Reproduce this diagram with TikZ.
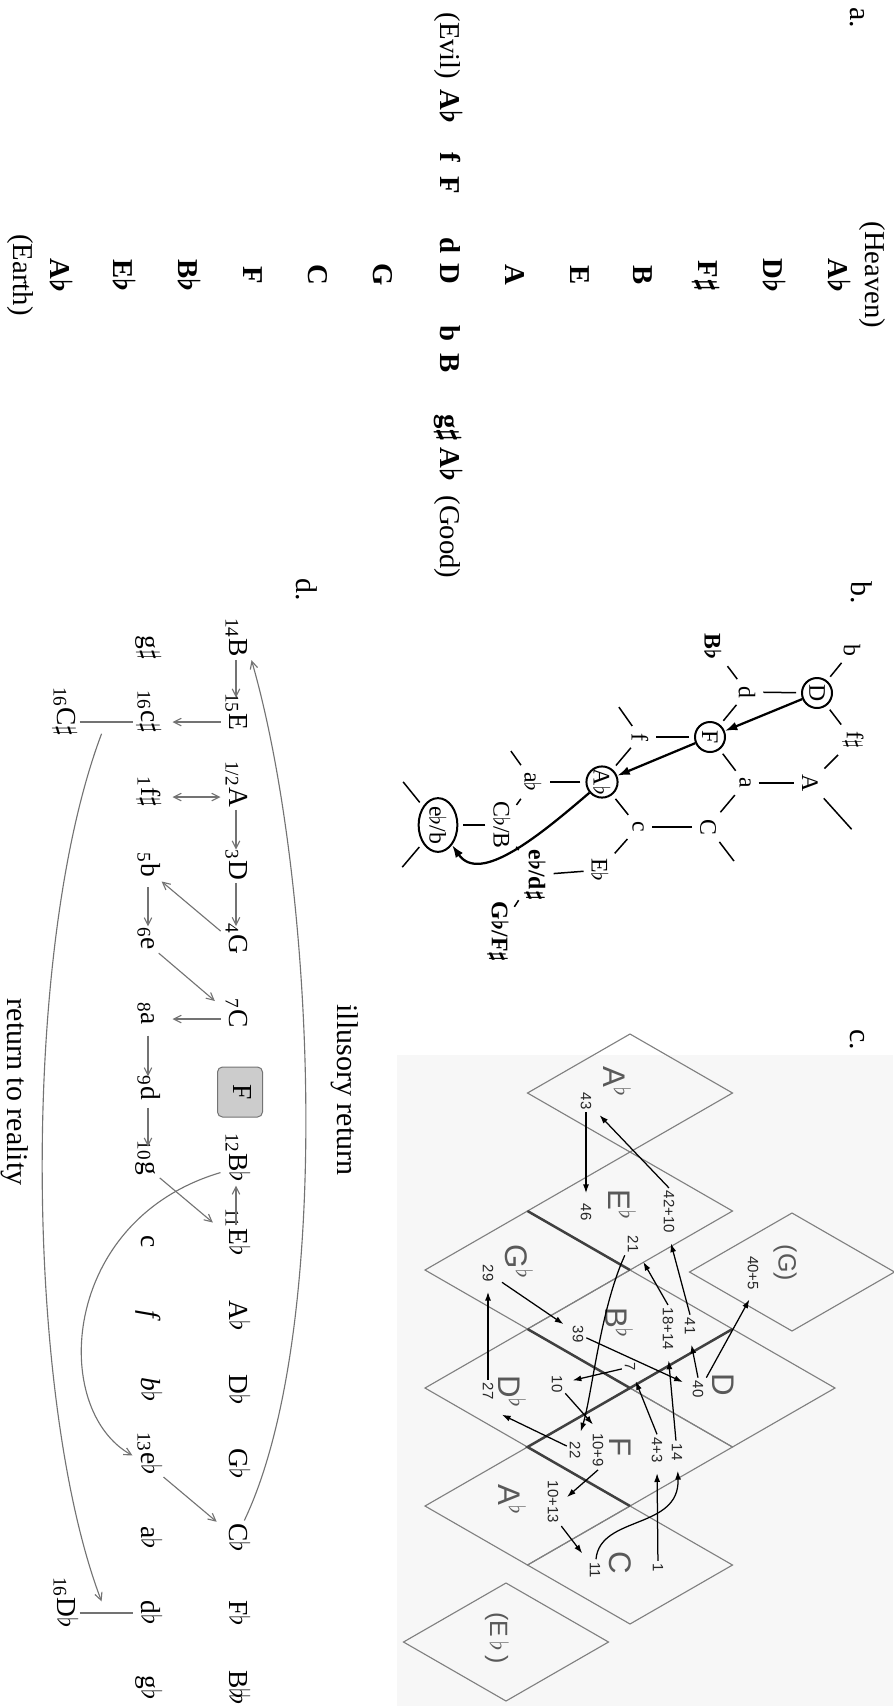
\documentclass[tikz,border=0pt]{standalone}
\usepackage{fontspec}
\setmainfont{Liberation Serif}
\setsansfont{Liberation Sans}
\usetikzlibrary{arrows.meta,shapes.geometric}

\begin{document}
\begin{tikzpicture}[
    x=0.4pt, y=-0.4pt,
    every node/.style={rotate=-90},
    tag/.style={font=\fontsize{12}{14}\selectfont, inner sep=1pt},
    pole/.style={font=\fontsize{11.5}{13}\selectfont, text height=8pt, text depth=2.5pt, inner sep=0pt},
    key/.style={pole, font=\fontsize{11.5}{13}\selectfont\bfseries\boldmath},
    tri/.style={font=\fontsize{9.5}{11}\selectfont, inner sep=1pt},
    trib/.style={tri, font=\fontsize{9.5}{11}\selectfont\bfseries\boldmath},
    ring/.style={tri, circle, draw, line width=0.8pt, inner sep=0pt, minimum size=12pt},
    oval/.style={tri, ellipse, draw, line width=0.8pt, inner sep=0pt, minimum width=18pt, minimum height=15.5pt},
    bond/.style={line width=0.6pt, shorten <=2pt, shorten >=2pt},
    walk/.style={line width=0.9pt, -{Latex[length=5pt, width=3.5pt]}},
    rh/.style={draw=black!50, line width=0.45pt},
    rhk/.style={draw=black!75, line width=1pt},
    chord/.style={font=\sffamily\fontsize{12.5}{14}\selectfont, text=black!65, inner sep=1pt},
    ghost/.style={font=\sffamily\fontsize{10}{12}\selectfont, text=black!65, inner sep=1pt},
    num/.style={font=\sffamily\fontsize{6}{7}\selectfont, text=black!85, inner sep=1pt},
    hop/.style={line width=0.5pt, shorten >=3pt, -{Latex[length=3.5pt, width=2.4pt]}},
    note/.style={font=\fontsize{11}{13}\selectfont, text height=7.5pt, text depth=2.5pt, inner sep=1pt},
    boxed/.style={note, draw=black!55, fill=black!20, rounded corners=2pt, minimum width=20pt, minimum height=18pt},
    move/.style={black!55, line width=0.45pt, -{Straight Barb[length=3pt, width=3pt]}},
    link/.style={black!55, line width=0.45pt}
]
\useasboundingbox (0,0) rectangle (893,1706);

% panel letters
\node[tag] (la) at (857,18) {a.};
\node[tag] (lb) at (862,593) {b.};
\node[tag] (lc) at (857,1040) {c.};
\node[tag] (ld) at (307,590) {d.};

% a. heaven / earth axis and evil / good axis
\node[pole] (heaven) at (872,275) {(Heaven)};
\node[key] (hAb) at (835,276) {A$\flat$};
\node[key] (hDb) at (770,276) {D$\flat$};
\node[key] (hFs) at (705,276) {F$\sharp$};
\node[key] (hB) at (640,275) {B};
\node[key] (hE) at (577,275) {E};
\node[key] (hA) at (512,275) {A};
\node[key] (mD) at (447,274) {D};
\node[key] (eG) at (380,275) {G};
\node[key] (eC) at (315,275) {C};
\node[key] (eF) at (250,275) {F};
\node[key] (eBb) at (185,276) {B$\flat$};
\node[key] (eEb) at (120,276) {E$\flat$};
\node[key] (eAb) at (57,276) {A$\flat$};
\node[pole] (earth) at (20,275) {(Earth)};
\node[pole] (evil) at (447,46) {(Evil)};
\node[key] (wAb) at (447,107) {A$\flat$};
\node[key] (wf) at (447,157) {f};
\node[key] (wF) at (447,185) {F};
\node[key] (wd) at (447,245) {d};
\node[key] (gb) at (447,333) {b};
\node[key] (gB) at (447,363) {B};
\node[key] (ggs) at (447,428) {g$\sharp$};
\node[key] (gAb) at (447,465) {A$\flat$};
\node[pole] (good) at (447,537) {(Good)};

% b. lattice walk
\node[ring] (bD) at (817,693) {D};
\node[ring] (bF) at (710,737) {F};
\node[ring] (bAb) at (602,782) {A$\flat$};
\node[oval] (bebb) at (438,825) {e$\flat$/b};
\node[tri] (bb) at (852,650) {b};
\node[tri] (bfs) at (853,740) {f$\sharp$};
\node[tri] (bA) at (810,783) {A};
\node[tri] (bd) at (747,692) {d};
\node[tri] (ba) at (745,783) {a};
\node[trib] (bBb) at (713,647) {B$\flat$};
\node[tri] (bC) at (708,827) {C};
\node[tri] (bf) at (640,737) {f};
\node[tri] (bc) at (638,827) {c};
\node[tri] (bEb) at (600,870) {E$\flat$};
\node[tri] (bab) at (533,782) {a$\flat$};
\node[trib] (bedx) at (535,875) {e$\flat$/d$\sharp$};
\node[tri] (bCbB) at (502,825) {C$\flat$/B};
\node[trib] (bGbF) at (498,932) {G$\flat$/F$\sharp$};
\coordinate (pA) at (855,833);
\coordinate (pf) at (616,703);
\coordinate (pab) at (508,747);
\coordinate (pC) at (737,865);
\coordinate (pe1) at (400,778);
\coordinate (pe2) at (399,871);
\draw[bond] (bb) -- (bD);
\draw[bond] (bD) -- (bfs);
\draw[bond] (bD) -- (bd);
\draw[bond] (bd) -- (bBb);
\draw[bond] (bd) -- (bF);
\draw[bond] (bF) -- (bf);
\draw[bond] (bF) -- (ba);
\draw[bond] (bfs) -- (bA);
\draw[bond] (ba) -- (bA);
\draw[bond] (bA) -- (pA);
\draw[bond] (bf) -- (pf);
\draw[bond] (bf) -- (bAb);
\draw[bond] (ba) -- (bC);
\draw[bond] (bC) -- (bc);
\draw[bond] (bC) -- (pC);
\draw[bond] (bAb) -- (bc);
\draw[bond] (bAb) -- (bab);
\draw[bond] (bab) -- (pab);
\draw[bond] (bab) -- (bCbB);
\draw[bond] (bc) -- (bEb);
\draw[bond] (bEb) -- (bedx);
\draw[bond] (bedx) -- (bGbF);
\draw[bond] (bCbB) -- (bedx);
\draw[bond] (bCbB) -- (bebb);
\draw[bond] (bebb) -- (pe1);
\draw[bond] (bebb) -- (pe2);
\draw[walk] (bD) -- (bF);
\draw[walk] (bF) -- (bAb);
\draw[walk] (bAb) .. controls (540,835) and (480,885) .. (bebb);

% c. region chart
\fill[black!3] (397,1055) rectangle (893,1706);
\foreach \cx/\cy in {630/1093, 630/1211, 527.5/1270, 630/1329, 732.5/1388, 527.5/1388,
                     630/1447, 527.5/1506, 630/1565, 792/1272, 506/1642}
  \draw[rh] (\cx,\cy-59) -- (\cx+102.5,\cy) -- (\cx,\cy+59) -- (\cx-102.5,\cy) -- cycle;
\draw[rhk] (527.5,1211) -- (630,1270);
\draw[rhk] (527.5,1329) -- (630,1388) -- (732.5,1329);
\draw[rhk] (630,1388) -- (527.5,1447) -- (630,1506);
\node[chord] (cAb) at (617,1082) {A$^\flat$};
\node[chord] (cEb) at (622,1205) {E$^\flat$};
\node[chord] (cGb) at (519,1262) {G$^\flat$};
\node[chord] (cBb) at (619,1323) {B$^\flat$};
\node[chord] (cD) at (723,1385) {D};
\node[chord] (cDb) at (512,1392) {D$^\flat$};
\node[chord] (cF) at (620,1447) {F};
\node[chord] (cAbb) at (512,1500) {A$^\flat$};
\node[chord] (cC) at (620,1563) {C};
\node[ghost] (cG) at (785,1263) {(G)};
\node[ghost] (cEbb) at (497,1638) {(E\,$\flat$\,)};
\node[num] (n43) at (586,1101) {43};
\node[num] (n46) at (586,1212) {46};
\node[num] (n4210) at (669,1212) {42+10};
\node[num] (n21) at (633,1244) {21};
\node[num] (n1814) at (668,1329) {18+14};
\node[num] (n41) at (690,1326) {41};
\node[num] (n405) at (753,1273) {40+5};
\node[num] (n39) at (578,1334) {39};
\node[num] (n29) at (488,1273) {29};
\node[num] (n27) at (488,1391) {27};
\node[num] (n7) at (630,1367) {7};
\node[num] (n10) at (557,1384) {10};
\node[num] (n40) at (698,1389) {40};
\node[num] (n22) at (575,1450) {22};
\node[num] (n109) at (598,1450) {10+9};
\node[num] (n1013) at (553,1502) {10+13};
\node[num] (n11) at (595,1570) {11};
\node[num] (n43b) at (657,1450) {4+3};
\node[num] (n14) at (677,1452) {14};
\node[num] (n1) at (658,1568) {1};
\draw[hop] (n1) -- (n43b.east);
\draw[hop] (n43b.west) -- (n7);
\draw[hop] (n7) -- (n10);
\draw[hop] (n10) -- (n109.west);
\draw[hop] (n109.east) -- (n1013.north);
\draw[hop] (n1013.north east) -- (n11);
\draw[hop] (n11) .. controls (600,1515) and (680,1530) .. (n14);
\draw[hop] (n14) -- (n1814.east);
\draw[hop] (n1814.west) -- (n21);
\draw[hop] (n21.south east) .. controls (600,1310) and (592,1395) .. (n22);
\draw[hop] (n22) -- (cDb.south east);
\draw[hop] (n27) -- (n29);
\draw[hop] (cGb.south east) -- (n39);
\draw[hop] (n39) -- (n40);
\draw[hop] (n40.west) -- (n41.east);
\draw[hop] (n41.west) -- (n4210.east);
\draw[hop] (n4210.west) -- (n43);
\draw[hop] (n43) -- (n46);
\draw[hop] (n40.north west) -- (n405.east);

% d. the sequence of keys
\node[note] (d14B) at (236,648) {\llap{\textsubscript{14}}B};
\node[note] (d15E) at (236,722) {\llap{\textsubscript{15}}E};
\node[note] (d12A) at (236,797) {\llap{\textsubscript{1/2}}A};
\node[note] (d3D) at (236,870) {\llap{\textsubscript{3}}D};
\node[note] (d4G) at (236,944) {\llap{\textsubscript{4}}G};
\node[note] (d7C) at (236,1019) {\llap{\textsubscript{7}}C};
\node[boxed] (dF) at (240,1092) {F};
\node[note] (d12Bb) at (236,1168) {\llap{\textsubscript{12}}B$\flat$};
\node[note] (d11Eb) at (236,1242) {\llap{\textsubscript{11}}E$\flat$};
\node[note] (dAb) at (236,1316) {A$\flat$};
\node[note] (dDb) at (236,1390) {D$\flat$};
\node[note] (dGb) at (236,1464) {G$\flat$};
\node[note] (dCb) at (236,1538) {C$\flat$};
\node[note] (dFb) at (236,1613) {F$\flat$};
\node[note] (dBbb) at (236,1688) {B$\flat\!\flat$};
\node[note] (dgs) at (148,648) {g$\sharp$};
\node[note] (d16cs) at (148,722) {\llap{\textsubscript{16}}c$\sharp$};
\node[note] (d1fs) at (148,797) {\llap{\textsubscript{1}}f$\sharp$};
\node[note] (d5b) at (148,870) {\llap{\textsubscript{5}}b};
\node[note] (d6e) at (148,944) {\llap{\textsubscript{6}}e};
\node[note] (d8a) at (148,1019) {\llap{\textsubscript{8}}a};
\node[note] (d9d) at (148,1093) {\llap{\textsubscript{9}}d};
\node[note] (d10g) at (148,1168) {\llap{\textsubscript{10}}g};
\node[note] (dc) at (148,1242) {c};
\node[note] (df) at (148,1316) {\textit{f}};
\node[note] (dbb) at (148,1390) {\textit{b}$\flat$};
\node[note] (d13eb) at (148,1464) {\llap{\textsubscript{13}}e$\flat$};
\node[note] (dab) at (148,1538) {a$\flat$};
\node[note] (ddb) at (148,1613) {d$\flat$};
\node[note] (dgb) at (148,1688) {g$\flat$};
\node[note] (d16Cs) at (64,722) {\llap{\textsubscript{16}}C$\sharp$};
\node[note] (d16Db) at (64,1613) {\llap{\textsubscript{16}}D$\flat$};
\node[tag] (illus) at (345,1090) {illusory return};
\node[tag] (real) at (15,1092) {return to reality};
\draw[move, shorten >=5.2pt] (d14B) -- (d15E);
\draw[move, shorten >=3.6pt] (d15E.south) -- (d16cs.north);
\draw[move, {Straight Barb[length=3pt, width=3pt]}-{Straight Barb[length=3pt, width=3pt]}, shorten >=3.6pt] (d12A.south) -- (d1fs.north);
\draw[move, shorten >=3pt] (d12A) -- (d3D);
\draw[move, shorten >=2pt] (d3D) -- (d4G);
\draw[move, shorten >=1pt] (d4G) -- (d5b);
\draw[move, shorten <=3pt, shorten >=3.4pt] (d5b) -- (d6e);
\draw[move, shorten >=3.6pt] (d6e) -- (d7C);
\draw[move, shorten >=3.6pt] (d7C.south) -- (d8a.north);
\draw[move, shorten <=3pt, shorten >=2.7pt] (d8a) -- (d9d);
\draw[move, shorten <=2pt, shorten >=4.6pt] (d9d) -- (d10g);
\draw[move, shorten >=4pt] (d10g) -- (d11Eb);
\draw[move] (d11Eb) -- (d12Bb);
\draw[move] (d12Bb) .. controls (60,1220) and (50,1410) .. (d13eb);
\draw[move, shorten >=2pt] (d13eb) -- (dCb);
\draw[move] (dCb) .. controls (335,1330) and (315,880) .. (d14B.north east);
\draw[link] (d16Cs.north) -- coordinate[pos=0.5] (m16) (d16cs.south);
\draw[link] (d16Db.north) -- coordinate[pos=0.5] (m16b) (ddb.south);
\draw[move, shorten <=5pt, shorten >=5pt] (m16) .. controls (20,950) and (25,1400) .. (m16b);
\end{tikzpicture}
\end{document}
